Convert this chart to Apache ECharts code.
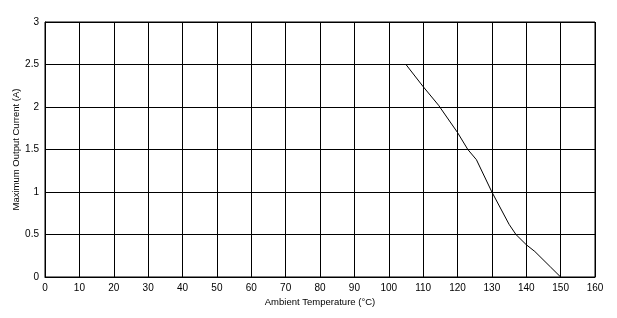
<!DOCTYPE html>
<html><head><meta charset="utf-8">
<script src="https://cdn.jsdelivr.net/npm/echarts@6/dist/echarts.min.js"></script>
<style>html,body{margin:0;padding:0;background:#fff}#c{width:617px;height:318px}</style>
</head><body><div id="c"></div>
<script>
var temps = [105,110,114.5,120,123,125.5,130,135,137,140,142.5,147,150];
var currents = [2.5,2.24,2.02,1.7,1.5,1.38,1.0,0.62,0.5,0.38,0.3,0.12,0.0];
var data = temps.map(function(t,i){return [t,currents[i]];});
var chart = echarts.init(document.getElementById('c'));
var font = 'Arial, "Liberation Sans", sans-serif';
chart.setOption({
  animation:false,
  grid:{left:45,right:22,top:22,bottom:41,show:true,borderColor:'#000',borderWidth:1,containLabel:false,outerBoundsMode:'none'},
  xAxis:{type:'value',min:0,max:160,interval:10,name:'Ambient Temperature (°C)',nameLocation:'middle',nameGap:20,nameMoveOverlap:false,
    nameTextStyle:{fontFamily:font,fontSize:9.5,color:'#000'},
    axisLine:{show:true,lineStyle:{color:'#000'}},axisTick:{show:false},
    axisLabel:{fontFamily:font,fontSize:10,color:'#000',margin:6},
    splitLine:{show:true,lineStyle:{color:'#000',width:1}}},
  yAxis:{type:'value',min:0,max:3,interval:0.5,name:'Maximum Output Current (A)',nameLocation:'middle',nameGap:24,nameMoveOverlap:false,
    nameTextStyle:{fontFamily:font,fontSize:9.5,color:'#000'},
    axisLine:{show:true,lineStyle:{color:'#000'}},axisTick:{show:false},
    axisLabel:{fontFamily:font,fontSize:10,color:'#000',margin:6},
    splitLine:{show:true,lineStyle:{color:'#000',width:1}}},
  series:[{type:'line',data:data,showSymbol:false,lineStyle:{color:'#000',width:1}}]
});
</script></body></html>
